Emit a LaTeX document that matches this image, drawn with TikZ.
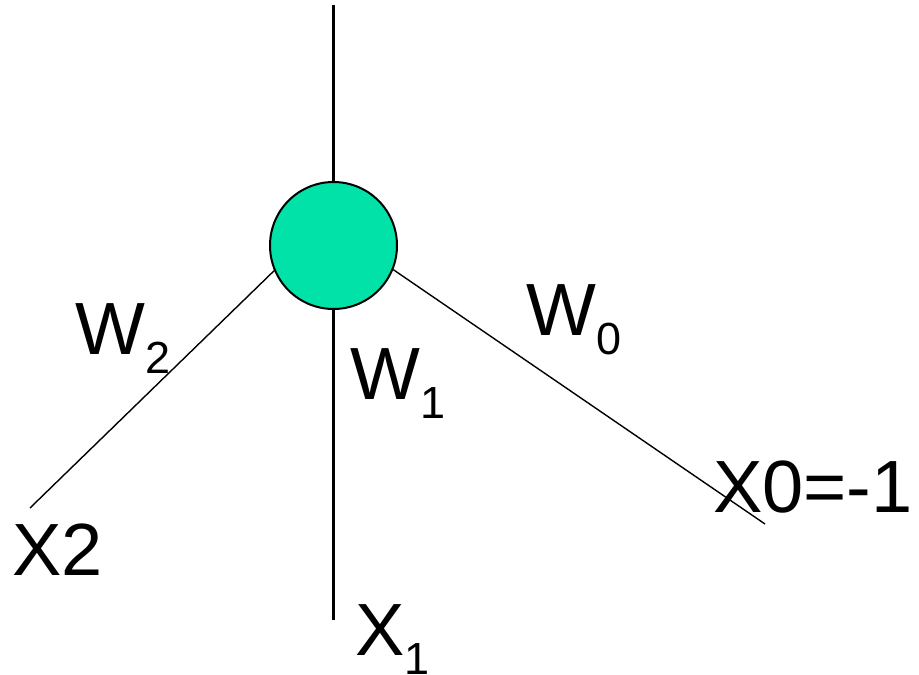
\documentclass[tikz,border=0pt]{standalone}
\usepackage{fontspec}
\setmainfont{Liberation Sans}
\definecolor{neurongreen}{RGB}{0,226,168}
\newcommand{\lowsub}[1]{\raisebox{-19pt}{\fontsize{45}{45}\selectfont #1}}
\begin{document}
\begin{tikzpicture}[
  x=1pt, y=-1pt,
  neuron/.style={circle, draw, line width=2pt, fill=neurongreen, minimum size=127pt, inner sep=0pt},
  axon/.style={line width=3pt},
  wire/.style={line width=1.4pt},
  lbl/.style={anchor=base west, inner sep=0pt, font=\fontsize{74}{74}\selectfont}
]
  \useasboundingbox (0,0) rectangle (919,675);
  \node[neuron] (cell) at (333.5,245.5) {};
  \coordinate (out) at (333.5,5);
  \coordinate (in1) at (333.5,620);
  \coordinate (in2) at (30,508);
  \coordinate (in0) at (765,524);
  \draw[axon] (cell.north) -- (out);
  \draw[axon] (cell.south) -- (in1);
  \draw[wire] (cell.203.6) -- (in2);
  \draw[wire] (cell.-22.4) -- (in0);
  % weights
  \node[lbl] (w2) at (75,354) {W\lowsub{2}};
  \node[lbl] (w1) at (350,399) {W\lowsub{1}};
  \node[lbl] (w0) at (526,335) {W\lowsub{0}};
  % inputs
  \node[lbl] (x0) at (713,512) {X0=-1};
  \node[lbl] (x2) at (12,575) {X2};
  \node[lbl] (x1) at (355,655) {X\lowsub{1}};
\end{tikzpicture}
\end{document}
